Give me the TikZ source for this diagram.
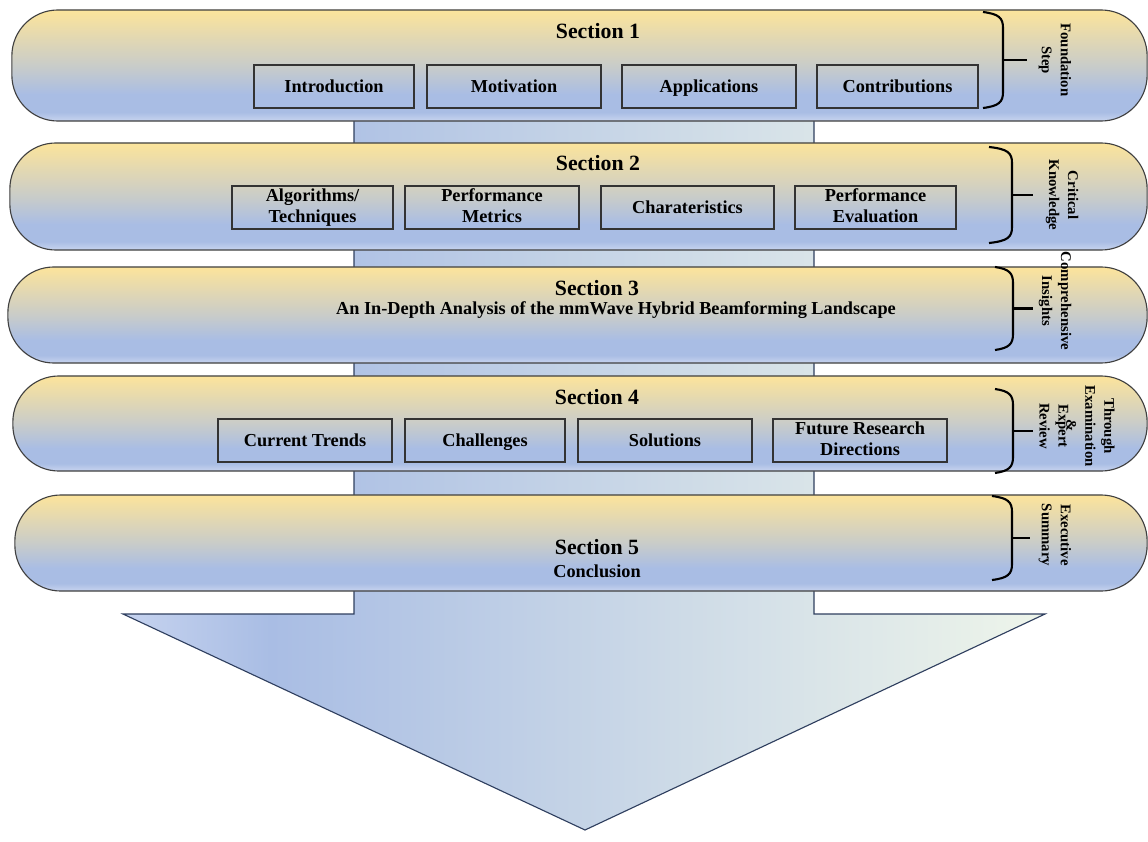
\documentclass[tikz,border=0pt]{standalone}
\usepackage{fontspec}
\setmainfont{Liberation Serif}
\usetikzlibrary{calc}

\definecolor{pilltop}{HTML}{FCE49B}
\definecolor{pillmid}{HTML}{C9CCC9}
\definecolor{pillblue}{HTML}{A9BDE4}
\definecolor{pillbot}{HTML}{C8D4EF}
\definecolor{pilledge}{HTML}{404040}
\definecolor{boxedge}{HTML}{333333}
\definecolor{arrL}{HTML}{C6D3EF}
\definecolor{arrB}{HTML}{A9BDE4}
\definecolor{arrR}{HTML}{EEF5EA}
\definecolor{arredge}{HTML}{2F3F5F}

\pgfdeclareverticalshading{pillshade}{100bp}{color(0bp)=(pillbot); color(25bp)=(pillbot);
  color(29bp)=(pillblue); color(37bp)=(pillblue); color(50bp)=(pillmid); color(75bp)=(pilltop); color(100bp)=(pilltop)}
\pgfdeclarehorizontalshading{arrowshade}{100bp}{color(0bp)=(arrL); color(25bp)=(arrL);
  color(33bp)=(arrB); color(75bp)=(arrR); color(100bp)=(arrR)}

\newcommand{\boxstrut}{\rule[-0.2em]{0pt}{1.05em}}

\tikzset{
  pill/.style={draw=pilledge, line width=0.8pt, rounded corners=1.15cm, shading=pillshade, inner sep=0pt},
  topic/.style={draw=boxedge, line width=0.8pt, minimum height=1.075cm, align=center, inner sep=1pt,
    execute at begin node=\boxstrut, execute at end node=\boxstrut,
    font=\fontsize{13}{15}\selectfont\bfseries},
  sectitle/.style={font=\fontsize{15.5}{18}\selectfont\bfseries},
  subtitle/.style={font=\fontsize{13}{15}\selectfont\bfseries},
  brace/.style={line width=1.5pt},
  bracelabel/.style={rotate=-90, align=center, inner sep=0pt, font=\fontsize{10.5}{13.5}\selectfont\bfseries}
}

% bracket at the right end of a section: end x, spine x, tick x, top y, bottom y
\newcommand{\secbrace}[5]{%
  \draw[brace] (#1,#4) .. controls (#2-4,#4+2) and (#2,#4+6) .. (#2,#4+16) -- (#2,#5-16)
    .. controls (#2,#5-6) and (#2-4,#5-2) .. (#1,#5);
  \draw[brace] (#2,{(#4+#5)/2}) -- (#3,{(#4+#5)/2});
}

\begin{document}
\begin{tikzpicture}[x=0.025cm,y=-0.025cm]
  \useasboundingbox (0,0) rectangle (1148,841);

  %the big arrow behind the sections
  \draw[arredge, line width=0.8pt, shading=arrowshade] (354,60) -- (814,60) -- (814,614) -- (1045,614)
    -- (585,830) -- (123,614) -- (354,614) -- cycle;

  %the five sections
  \node[pill, minimum width=28.375cm, minimum height=2.775cm] (sec1) at (579.5,65.5) {};
  \node[pill, minimum width=28.425cm, minimum height=2.675cm] (sec2) at (578.5,196.5) {};
  \node[pill, minimum width=28.475cm, minimum height=2.4cm] (sec3) at (577.5,315) {};
  \node[pill, minimum width=28.35cm, minimum height=2.375cm] (sec4) at (580,423.5) {};
  \node[pill, minimum width=28.3cm, minimum height=2.4cm] (sec5) at (581,543) {};

  %section 1
  \node[sectitle] (title1) at (598,31) {Section 1};
  \node[topic, minimum width=4cm] (intro) at (334,86.5) {Introduction};
  \node[topic, minimum width=4.35cm] (motiv) at (514,86.5) {Motivation};
  \node[topic, minimum width=4.35cm] (appl) at (709,86.5) {Applications};
  \node[topic, minimum width=4.025cm] (contrib) at (897.5,86.5) {Contributions};

  %section 2
  \node[sectitle] (title2) at (598,163) {Section 2};
  \node[topic, minimum width=4.025cm] (algo) at (312.5,207.5) {Algorithms/\\Techniques};
  \node[topic, minimum width=4.35cm] (metrics) at (492,207.5) {Performance\\Metrics};
  \node[topic, minimum width=4.325cm] (charac) at (687.5,207.5) {Charateristics};
  \node[topic, minimum width=4.025cm] (evalu) at (875.5,207.5) {Performance\\Evaluation};

  %section 3
  \node[sectitle] (title3) at (597,288) {Section 3};
  \node[subtitle] (analysis) at (616,310) {An In-Depth Analysis of the mmWave Hybrid Beamforming Landscape};

  %section 4
  \node[sectitle] (title4) at (597,397) {Section 4};
  \node[topic, minimum width=4.35cm] (trends) at (305,440.5) {Current Trends};
  \node[topic, minimum width=4cm] (chall) at (485,440.5) {Challenges};
  \node[topic, minimum width=4.35cm] (solut) at (665,440.5) {Solutions};
  \node[topic, minimum width=4.35cm] (future) at (860,440.5) {Future Research\\Directions};

  %section 5
  \node[sectitle] (title5) at (597,547) {Section 5};
  \node[subtitle] (concl) at (597,571) {Conclusion};

  %brackets and their labels
  \secbrace{983}{1003}{1027}{12}{108}
  \secbrace{989}{1012}{1033}{147}{243}
  \secbrace{995}{1013}{1033}{267}{350}
  \secbrace{995}{1013}{1033}{389}{473}
  \secbrace{992}{1012}{1030}{496}{580}

  \node[bracelabel] (lab1) at (1055,60) {Foundation\\Step};
  \node[bracelabel] (lab2) at (1062,195) {Critical\\Knowledge};
  \node[bracelabel] (lab3) at (1055,301) {Comprehensive\\Insights};
  \node[bracelabel] (lab4) at (1077,426) {Through\\Examination\\\&\\[-8pt]Expert\\Review};
  \node[bracelabel] (lab5) at (1055,535) {Executive\\Summary};
\end{tikzpicture}
\end{document}
